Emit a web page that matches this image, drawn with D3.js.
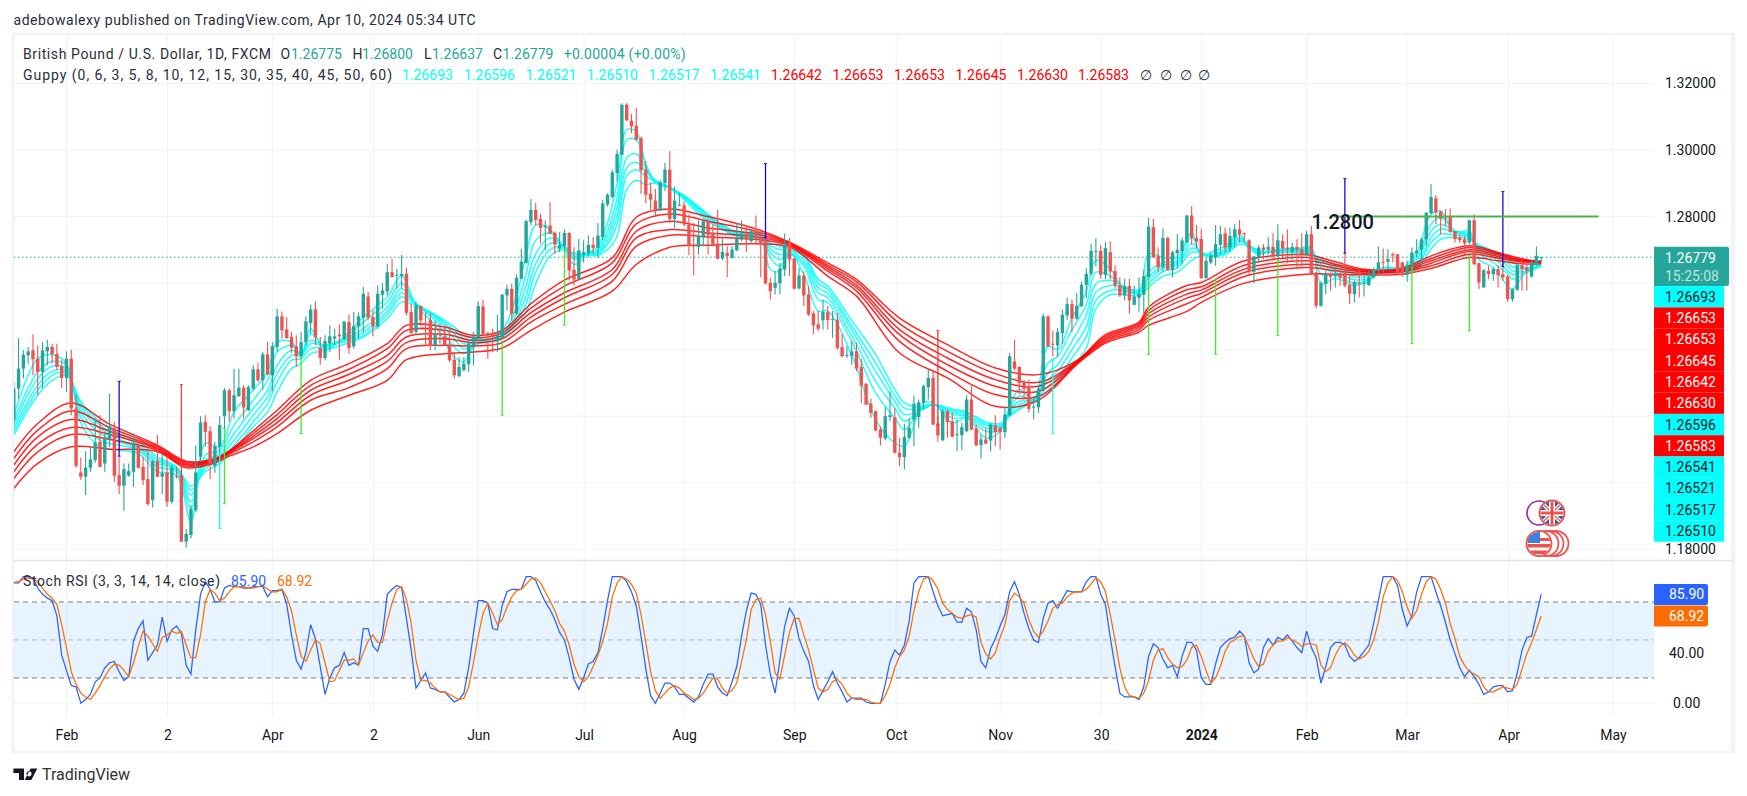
<!DOCTYPE html>
<html>
<head>
<meta charset="utf-8">
<script src="https://cdn.jsdelivr.net/npm/d3@7/dist/d3.min.js"></script>
<style>
html,body{margin:0;padding:0;background:#fff;overflow:hidden}
svg{display:block}
text{font-family:Roboto,"Liberation Sans",sans-serif}
</style>
</head>
<body>
<svg id="chart" width="1747" height="796"></svg>
<script>
// GBP/USD daily candles
const opens=[
1.2188,1.2283,1.2343,1.2383,1.2398,1.2373,1.2333,1.2395,1.2408,1.2388,
1.2350,1.2315,1.2373,1.2223,1.2031,1.2018,1.2045,1.2068,1.2123,1.2058,
1.2133,1.2163,1.2023,1.1991,1.2021,1.2033,1.2113,1.2048,1.2011,1.1948,
1.2065,1.2018,1.2031,1.1943,1.2021,1.2020,1.1823,1.1843,1.1918,1.2078,
1.2183,1.2155,1.2051,1.2108,1.2200,1.2278,1.2215,1.2260,1.2286,1.2218,
1.2283,1.2341,1.2308,1.2386,1.2323,1.2408,1.2500,1.2461,1.2438,1.2410,
1.2380,1.2423,1.2480,1.2521,1.2405,1.2375,1.2418,1.2433,1.2445,1.2433,
1.2483,1.2410,1.2470,1.2496,1.2560,1.2498,1.2470,1.2565,1.2575,1.2633,
1.2623,1.2621,1.2628,1.2513,1.2453,1.2531,1.2478,1.2490,1.2411,1.2446,
1.2440,1.2415,1.2370,1.2321,1.2338,1.2356,1.2413,1.2438,1.2530,1.2450,
1.2448,1.2425,1.2438,1.2563,1.2583,1.2508,1.2613,1.2661,1.2783,1.2820,
1.2793,1.2768,1.2773,1.2751,1.2703,1.2711,1.2751,1.2640,1.2613,1.2686,
1.2690,1.2715,1.2706,1.2738,1.2836,1.2859,1.2931,1.2986,1.3136,1.3088,
1.3073,1.3036,1.2941,1.2869,1.2848,1.2819,1.2901,1.2941,1.2793,1.2835,
1.2834,1.2776,1.2713,1.2709,1.2738,1.2786,1.2749,1.2719,1.2674,1.2691,
1.2676,1.2698,1.2731,1.2749,1.2726,1.2756,1.2736,1.2736,1.2601,1.2586,
1.2599,1.2641,1.2721,1.2674,1.2584,1.2623,1.2566,1.2509,1.2476,1.2488,
1.2513,1.2490,1.2490,1.2408,1.2382,1.2382,1.2395,1.2348,1.2297,1.2238,
1.2215,1.2160,1.2133,1.2197,1.2197,1.2090,1.2077,1.2135,1.2190,1.2197,
1.2240,1.2287,1.2315,1.2178,1.2128,1.2215,1.2185,1.2144,1.2143,1.2155,
1.2250,1.2163,1.2113,1.2130,1.2127,1.2172,1.2165,1.2152,1.2203,1.2365,
1.2348,1.2303,1.2288,1.2227,1.2227,1.2277,1.2500,1.2418,1.2413,1.2450,
1.2503,1.2537,1.2493,1.2530,1.2595,1.2628,1.2695,1.2697,1.2625,1.2693,
1.2636,1.2593,1.2563,1.2591,1.2535,1.2556,1.2565,1.2618,1.2768,1.2681,
1.2648,1.2736,1.2640,1.2690,1.2696,1.2723,1.2803,1.2736,1.2733,1.2615,
1.2662,1.2677,1.2715,1.2750,1.2707,1.2737,1.2762,1.2750,1.2729,1.2634,
1.2677,1.2707,1.2700,1.2709,1.2682,1.2727,1.2707,1.2694,1.2709,1.2702,
1.2687,1.2747,1.2632,1.2532,1.2597,1.2627,1.2620,1.2625,1.2632,1.2594,
1.2567,1.2602,1.2598,1.2594,1.2617,1.2637,1.2664,1.2664,1.2687,1.2687,
1.2662,1.2625,1.2650,1.2689,1.2700,1.2732,1.2810,1.2855,1.2815,1.2797,
1.2800,1.2756,1.2737,1.2732,1.2722,1.2789,1.2660,1.2587,1.2637,1.2627,
1.2642,1.2627,1.2620,1.2552,1.2580,1.2654,1.2647,1.2620,1.2657,1.26775];
const closes=[
1.2283,1.2343,1.2385,1.2395,1.2371,1.2333,1.2398,1.2408,1.2386,1.2348,
1.2315,1.2373,1.2223,1.2051,1.2018,1.2046,1.2070,1.2121,1.2048,1.2136,
1.2170,1.2021,1.1991,1.2041,1.2035,1.2113,1.2045,1.2008,1.1936,1.2065,
1.2018,1.2028,1.1943,1.2046,1.2018,1.1823,1.1846,1.1921,1.2031,1.2181,
1.2153,1.2058,1.2110,1.2173,1.2278,1.2215,1.2263,1.2286,1.2226,1.2288,
1.2341,1.2308,1.2386,1.2326,1.2410,1.2500,1.2458,1.2435,1.2406,1.2380,
1.2423,1.2485,1.2521,1.2438,1.2375,1.2426,1.2440,1.2440,1.2440,1.2485,
1.2405,1.2471,1.2500,1.2568,1.2496,1.2470,1.2568,1.2578,1.2633,1.2618,
1.2625,1.2628,1.2511,1.2450,1.2533,1.2488,1.2474,1.2411,1.2445,1.2443,
1.2413,1.2368,1.2323,1.2348,1.2358,1.2418,1.2440,1.2531,1.2446,1.2443,
1.2438,1.2443,1.2565,1.2583,1.2508,1.2616,1.2665,1.2786,1.2820,1.2790,
1.2766,1.2773,1.2748,1.2716,1.2715,1.2751,1.2638,1.2611,1.2698,1.2693,
1.2715,1.2706,1.2743,1.2839,1.2866,1.2933,1.2988,1.3136,1.3089,1.3071,
1.3031,1.2939,1.2866,1.2851,1.2819,1.2903,1.2941,1.2793,1.2848,1.2836,
1.2776,1.2711,1.2710,1.2741,1.2786,1.2744,1.2716,1.2674,1.2694,1.2681,
1.2701,1.2733,1.2748,1.2731,1.2756,1.2734,1.2721,1.2599,1.2576,1.2601,
1.2644,1.2721,1.2671,1.2583,1.2623,1.2563,1.2506,1.2473,1.2463,1.2513,
1.2489,1.2492,1.2405,1.2380,1.2384,1.2395,1.2343,1.2292,1.2235,1.2210,
1.2157,1.2135,1.2200,1.2203,1.2090,1.2077,1.2137,1.2165,1.2238,1.2242,
1.2290,1.2315,1.2175,1.2142,1.2215,1.2182,1.2138,1.2146,1.2167,1.2250,
1.2160,1.2112,1.2130,1.2118,1.2175,1.2152,1.2152,1.2205,1.2380,1.2343,
1.2300,1.2282,1.2222,1.2229,1.2282,1.2500,1.2410,1.2415,1.2453,1.2505,
1.2537,1.2493,1.2532,1.2595,1.2628,1.2697,1.2697,1.2625,1.2705,1.2635,
1.2593,1.2563,1.2591,1.2548,1.2560,1.2568,1.2621,1.2770,1.2678,1.2648,
1.2736,1.2640,1.2693,1.2700,1.2728,1.2803,1.2735,1.2725,1.2615,1.2667,
1.2682,1.2717,1.2747,1.2707,1.2742,1.2762,1.2747,1.2747,1.2637,1.2680,
1.2707,1.2700,1.2709,1.2682,1.2729,1.2704,1.2702,1.2709,1.2700,1.2687,
1.2747,1.2627,1.2532,1.2600,1.2627,1.2619,1.2627,1.2616,1.2592,1.2568,
1.2604,1.2600,1.2600,1.2617,1.2642,1.2662,1.2662,1.2672,1.2683,1.2627,
1.2625,1.2652,1.2692,1.2697,1.2732,1.2812,1.2859,1.2812,1.2794,1.2794,
1.2754,1.2732,1.2729,1.2720,1.2789,1.2657,1.2602,1.2639,1.2627,1.2642,
1.2624,1.2617,1.2552,1.2582,1.2654,1.2642,1.2637,1.2664,1.2682,1.26779];
const highs=[
1.2303,1.2435,1.2398,1.2408,1.2446,1.2413,1.2423,1.2430,1.2418,1.2418,
1.2368,1.2395,1.2400,1.2265,1.2076,1.2095,1.2108,1.2193,1.2203,1.2153,
1.2268,1.2183,1.2078,1.2058,1.2058,1.2148,1.2130,1.2078,1.2098,1.2070,
1.2143,1.2090,1.2078,1.2053,1.2048,1.2020,1.1861,1.1933,1.2113,1.2200,
1.2203,1.2170,1.2123,1.2200,1.2285,1.2283,1.2343,1.2343,1.2293,1.2293,
1.2353,1.2361,1.2393,1.2423,1.2423,1.2523,1.2515,1.2498,1.2453,1.2443,
1.2453,1.2500,1.2536,1.2545,1.2438,1.2443,1.2473,1.2463,1.2476,1.2485,
1.2506,1.2513,1.2511,1.2588,1.2573,1.2518,1.2593,1.2600,1.2658,1.2673,
1.2643,1.2685,1.2646,1.2538,1.2543,1.2533,1.2513,1.2508,1.2488,1.2478,
1.2473,1.2468,1.2393,1.2378,1.2378,1.2433,1.2453,1.2545,1.2550,1.2453,
1.2463,1.2505,1.2568,1.2595,1.2598,1.2626,1.2703,1.2791,1.2853,1.2841,
1.2808,1.2788,1.2843,1.2755,1.2753,1.2761,1.2753,1.2708,1.2733,1.2728,
1.2743,1.2738,1.2781,1.2850,1.2870,1.2940,1.3001,1.3141,1.3141,1.3109,
1.3126,1.3041,1.2966,1.2903,1.2883,1.2909,1.2961,1.2996,1.2891,1.2871,
1.2846,1.2806,1.2781,1.2791,1.2788,1.2791,1.2776,1.2821,1.2736,1.2711,
1.2711,1.2781,1.2788,1.2771,1.2761,1.2803,1.2761,1.2736,1.2616,1.2636,
1.2661,1.2749,1.2736,1.2676,1.2646,1.2636,1.2591,1.2516,1.2516,1.2551,
1.2531,1.2516,1.2510,1.2447,1.2410,1.2425,1.2422,1.2373,1.2300,1.2253,
1.2217,1.2170,1.2227,1.2275,1.2223,1.2135,1.2177,1.2193,1.2262,1.2250,
1.2295,1.2340,1.2335,1.2200,1.2222,1.2220,1.2213,1.2190,1.2180,1.2263,
1.2290,1.2175,1.2145,1.2165,1.2180,1.2203,1.2168,1.2230,1.2390,1.2430,
1.2350,1.2308,1.2310,1.2260,1.2290,1.2508,1.2503,1.2457,1.2465,1.2520,
1.2557,1.2550,1.2570,1.2605,1.2645,1.2718,1.2735,1.2715,1.2723,1.2726,
1.2653,1.2618,1.2613,1.2613,1.2593,1.2618,1.2638,1.2796,1.2793,1.2708,
1.2765,1.2738,1.2698,1.2748,1.2738,1.2805,1.2831,1.2775,1.2763,1.2678,
1.2692,1.2775,1.2772,1.2767,1.2767,1.2777,1.2789,1.2752,1.2732,1.2682,
1.2714,1.2717,1.2737,1.2750,1.2777,1.2747,1.2762,1.2722,1.2732,1.2750,
1.2757,1.2772,1.2634,1.2607,1.2637,1.2632,1.2642,1.2657,1.2690,1.2627,
1.2607,1.2642,1.2620,1.2637,1.2647,1.2710,1.2704,1.2702,1.2692,1.2687,
1.2664,1.2667,1.2707,1.2732,1.2737,1.2812,1.2897,1.2864,1.2817,1.2822,
1.2824,1.2757,1.2747,1.2742,1.2789,1.2807,1.2662,1.2642,1.2652,1.2647,
1.2654,1.2682,1.2624,1.2584,1.2657,1.2672,1.2657,1.2667,1.2710,1.2680];
const lows=[
1.2170,1.2253,1.2313,1.2358,1.2323,1.2263,1.2285,1.2353,1.2358,1.2338,
1.2285,1.2273,1.2203,1.2045,1.2008,1.1963,1.2033,1.2060,1.2048,1.2033,
1.2108,1.2003,1.1966,1.1916,1.2018,1.1988,1.2043,1.1993,1.1931,1.1926,
1.2018,1.1966,1.1928,1.1938,1.2013,1.1823,1.1805,1.1833,1.1911,1.2063,
1.2108,1.2011,1.2030,1.2053,1.2163,1.2183,1.2193,1.2258,1.2193,1.2216,
1.2278,1.2303,1.2278,1.2323,1.2276,1.2393,1.2433,1.2433,1.2390,1.2348,
1.2373,1.2413,1.2448,1.2413,1.2355,1.2368,1.2393,1.2413,1.2370,1.2428,
1.2388,1.2403,1.2433,1.2451,1.2488,1.2440,1.2463,1.2523,1.2563,1.2618,
1.2583,1.2583,1.2503,1.2448,1.2448,1.2471,1.2413,1.2398,1.2398,1.2418,
1.2411,1.2363,1.2313,1.2316,1.2335,1.2333,1.2353,1.2433,1.2445,1.2373,
1.2393,1.2393,1.2433,1.2518,1.2488,1.2505,1.2613,1.2658,1.2773,1.2773,
1.2718,1.2698,1.2748,1.2688,1.2693,1.2703,1.2608,1.2593,1.2611,1.2663,
1.2678,1.2688,1.2676,1.2730,1.2830,1.2855,1.2906,1.2986,1.3088,1.3051,
1.3029,1.2869,1.2841,1.2819,1.2801,1.2816,1.2876,1.2781,1.2766,1.2831,
1.2771,1.2684,1.2624,1.2686,1.2711,1.2686,1.2711,1.2671,1.2669,1.2618,
1.2674,1.2696,1.2726,1.2693,1.2721,1.2716,1.2618,1.2596,1.2551,1.2566,
1.2566,1.2621,1.2621,1.2581,1.2581,1.2531,1.2501,1.2446,1.2456,1.2461,
1.2461,1.2436,1.2400,1.2378,1.2375,1.2355,1.2335,1.2238,1.2232,1.2195,
1.2155,1.2112,1.2128,1.2185,1.2088,1.2050,1.2040,1.2133,1.2110,1.2165,
1.2220,1.2250,1.2173,1.2123,1.2125,1.2135,1.2138,1.2095,1.2098,1.2152,
1.2158,1.2110,1.2073,1.2115,1.2095,1.2110,1.2100,1.2135,1.2200,1.2338,
1.2265,1.2250,1.2212,1.2190,1.2210,1.2275,1.2408,1.2380,1.2378,1.2418,
1.2490,1.2452,1.2490,1.2528,1.2555,1.2623,1.2650,1.2613,1.2613,1.2611,
1.2583,1.2558,1.2548,1.2508,1.2533,1.2515,1.2508,1.2615,1.2675,1.2633,
1.2635,1.2638,1.2617,1.2643,1.2658,1.2720,1.2716,1.2705,1.2613,1.2613,
1.2657,1.2652,1.2687,1.2692,1.2692,1.2707,1.2722,1.2725,1.2622,1.2600,
1.2662,1.2672,1.2687,1.2672,1.2674,1.2677,1.2660,1.2667,1.2642,1.2645,
1.2677,1.2624,1.2524,1.2530,1.2567,1.2577,1.2587,1.2592,1.2587,1.2537,
1.2542,1.2557,1.2560,1.2592,1.2614,1.2627,1.2632,1.2642,1.2662,1.2624,
1.2620,1.2604,1.2627,1.2677,1.2652,1.2712,1.2807,1.2777,1.2747,1.2772,
1.2750,1.2722,1.2720,1.2687,1.2717,1.2654,1.2582,1.2587,1.2612,1.2607,
1.2587,1.2607,1.2544,1.2544,1.2577,1.2577,1.2577,1.2617,1.2652,1.26637];

// Stochastic RSI, one value per candle
const stochK=[
95,95,100,100,99,91,86,83,81,69,38,26,14,13,0,3,7,17,20,28,
32,33,25,18,21,49,59,65,34,40,46,68,49,58,61,55,30,23,58,86,
96,90,80,80,91,93,92,92,91,91,92,92,92,84,89,89,90,78,54,34,
27,40,62,51,29,7,20,28,30,40,30,32,30,59,59,45,41,54,86,90,
93,91,67,42,12,18,24,12,11,9,9,5,1,3,8,28,55,81,81,79,59,58,
77,88,90,90,90,100,100,97,88,80,74,66,56,50,36,19,11,20,31,33,
40,59,81,100,100,100,96,88,77,53,27,6,0,8,16,16,13,7,7,4,
1,5,15,23,23,13,8,6,17,29,53,73,87,86,78,46,23,8,34,61,
75,69,51,41,33,14,3,10,17,25,16,9,1,4,4,4,1,0,0,0,
15,33,42,38,46,65,95,100,100,100,88,77,69,70,71,64,64,75,72,58,
33,28,43,51,61,70,88,96,86,71,59,50,48,67,79,81,75,82,89,88,
88,88,96,100,100,86,78,52,29,8,5,5,5,3,13,37,47,44,35,28,
30,21,37,48,48,42,20,15,15,31,44,48,51,52,57,53,32,24,27,44,
51,46,52,50,54,49,44,40,57,44,36,16,29,44,48,48,46,37,33,36,
41,46,63,81,100,100,100,93,74,61,69,88,100,100,100,88,77,64,50,39,
28,21,26,21,15,7,9,13,14,14,9,10,24,42,52,53,70,85.9];
const stochD=[
95.5,96,98,99,98,96,91,86,83,78,62,44,25,15,8,5,3,8,14,21,
27,31,30,26,21,32,45,57,53,47,41,52,54,57,55,57,46,36,36,54,
80,90,87,81,83,88,92,92,92,91,91,92,93,90,88,88,90,84,73,54,
37,33,42,50,47,32,17,18,26,34,34,35,30,40,49,54,48,48,65,79,
90,92,82,63,34,18,18,16,12,9,9,7,5,3,4,13,32,53,71,79,71,62,
66,76,84,89,90,94,98,99,95,88,81,73,63,57,46,31,21,17,21,29,
38,49,63,84,95,100,98,94,87,70,48,25,10,4,8,12,14,12,8,6,
3,4,8,14,20,19,12,8,10,16,33,50,74,82,83,70,49,24,19,38,
56,67,67,54,42,27,12,9,11,17,19,15,8,4,3,3,3,1,0,0,
6,15,28,37,42,53,73,88,98,100,97,90,79,74,71,68,67,69,70,68,
48,39,35,40,52,62,81,87,84,79,66,57,52,57,65,75,78,79,84,87,
88,88,90,94,99,96,88,70,50,28,13,6,5,4,8,18,34,42,43,36,
31,28,29,34,44,46,37,26,16,20,29,41,48,50,53,53,44,35,29,31,
41,46,49,49,52,50,48,45,47,47,46,30,25,28,38,45,48,44,38,35,
37,41,50,64,84,95,100,97,88,76,67,73,86,96,100,98,90,79,63,51,
37,30,25,23,21,13,9,9,11,13,12,11,15,27,39,48,58,68.92];

// Guppy multiple moving averages, read at selected candles
const cyanBars=[0,5,8,11,14,18,22,26,30,34,37,40,43,46,50,53,55,58,60,62,65,70,73,78,81,84,88,92,94,97,100,102,105,107,109,112,115,117,120,122,124,126,128,130,132,134,137,140,144,148,151,156,158,160,162,165,168,170,175,180,184,186,190,192,196,199,203,206,208,210,213,216,218,221,224,226,229,232,235,237,240,243,246,248,250,253,256,258,260,264,268,271,273,276,280,283,286,290,293,296,298,301,304,306,309,312,313,316,319];
const cyanRows=[
[1.2203,1.2188,1.2176,1.2163,1.2153,1.2143],[1.2373,1.2333,1.2313,1.2293,1.2278,1.2263],[1.2385,1.2365,1.2350,1.2335,1.2323,1.2308],
[1.2358,1.2353,1.2343,1.2336,1.2330,1.2323],[1.2178,1.2198,1.2213,1.2226,1.2236,1.2245],[1.2108,1.2128,1.2148,1.2163,1.2173,1.2183],
[1.2098,1.2113,1.2123,1.2131,1.2140,1.2148],[1.2088,1.2098,1.2103,1.2108,1.2115,1.2123],[1.2033,1.2048,1.2058,1.2065,1.2070,1.2078],
[1.2023,1.2033,1.2038,1.2041,1.2045,1.2048],[1.1883,1.1923,1.1943,1.1963,1.1978,1.1990],[1.2118,1.2083,1.2068,1.2053,1.2043,1.2033],
[1.2108,1.2098,1.2086,1.2078,1.2068,1.2058],[1.2213,1.2173,1.2148,1.2128,1.2113,1.2101],[1.2278,1.2248,1.2223,1.2203,1.2183,1.2168],
[1.2333,1.2308,1.2278,1.2258,1.2238,1.2213],[1.2423,1.2393,1.2353,1.2328,1.2303,1.2273],[1.2423,1.2413,1.2398,1.2383,1.2368,1.2343],
[1.2383,1.2388,1.2388,1.2383,1.2373,1.2358],[1.2463,1.2448,1.2428,1.2418,1.2403,1.2388],[1.2403,1.2410,1.2413,1.2413,1.2408,1.2398],
[1.2453,1.2446,1.2438,1.2433,1.2428,1.2421],[1.2498,1.2483,1.2463,1.2453,1.2443,1.2438],[1.2558,1.2543,1.2528,1.2515,1.2505,1.2493],
[1.2623,1.2600,1.2583,1.2571,1.2558,1.2543],[1.2533,1.2538,1.2538,1.2538,1.2536,1.2533],[1.2473,1.2488,1.2496,1.2500,1.2503,1.2505],
[1.2378,1.2408,1.2433,1.2448,1.2458,1.2468],[1.2363,1.2388,1.2403,1.2418,1.2433,1.2443],[1.2438,1.2418,1.2418,1.2423,1.2428,1.2433],
[1.2448,1.2433,1.2428,1.2428,1.2431,1.2433],[1.2458,1.2443,1.2438,1.2438,1.2438,1.2441],[1.2563,1.2528,1.2508,1.2493,1.2483,1.2473],
[1.2683,1.2628,1.2593,1.2563,1.2538,1.2513],[1.2775,1.2728,1.2688,1.2658,1.2633,1.2598],[1.2761,1.2751,1.2736,1.2719,1.2701,1.2681],
[1.2701,1.2706,1.2709,1.2711,1.2709,1.2701],[1.2656,1.2671,1.2676,1.2681,1.2686,1.2691],[1.2691,1.2691,1.2691,1.2689,1.2686,1.2684],
[1.2711,1.2701,1.2696,1.2691,1.2689,1.2684],[1.2781,1.2756,1.2741,1.2726,1.2716,1.2701],[1.2901,1.2856,1.2826,1.2801,1.2776,1.2741],
[1.3061,1.3031,1.2976,1.2946,1.2921,1.2881],[1.3056,1.3031,1.2989,1.2963,1.2941,1.2909],[1.2956,1.2956,1.2946,1.2936,1.2921,1.2896],
[1.2901,1.2906,1.2909,1.2909,1.2906,1.2901],[1.2886,1.2888,1.2888,1.2888,1.2888,1.2886],[1.2851,1.2856,1.2859,1.2861,1.2863,1.2863],
[1.2796,1.2803,1.2809,1.2813,1.2816,1.2819],[1.2761,1.2761,1.2766,1.2769,1.2773,1.2776],[1.2741,1.2744,1.2746,1.2749,1.2751,1.2754],
[1.2729,1.2738,1.2741,1.2744,1.2746,1.2749],[1.2641,1.2676,1.2691,1.2703,1.2713,1.2721],[1.2636,1.2651,1.2671,1.2686,1.2701,1.2711],
[1.2691,1.2686,1.2686,1.2691,1.2698,1.2703],[1.2626,1.2651,1.2661,1.2671,1.2681,1.2686],[1.2516,1.2551,1.2571,1.2586,1.2600,1.2611],
[1.2516,1.2541,1.2556,1.2569,1.2581,1.2591],[1.2385,1.2425,1.2442,1.2460,1.2472,1.2488],[1.2190,1.2270,1.2305,1.2335,1.2360,1.2385],
[1.2120,1.2195,1.2225,1.2245,1.2262,1.2280],[1.2110,1.2160,1.2185,1.2205,1.2225,1.2240],[1.2240,1.2230,1.2225,1.2222,1.2222,1.2225],
[1.2240,1.2235,1.2235,1.2235,1.2235,1.2235],[1.2180,1.2195,1.2205,1.2212,1.2217,1.2222],[1.2195,1.2195,1.2200,1.2203,1.2210,1.2213],
[1.2135,1.2155,1.2165,1.2173,1.2178,1.2183],[1.2155,1.2160,1.2165,1.2170,1.2173,1.2178],[1.2230,1.2220,1.2215,1.2208,1.2203,1.2200],
[1.2280,1.2260,1.2245,1.2235,1.2225,1.2220],[1.2250,1.2250,1.2250,1.2250,1.2248,1.2245],[1.2410,1.2360,1.2330,1.2310,1.2290,1.2275],
[1.2400,1.2380,1.2355,1.2335,1.2315,1.2300],[1.2495,1.2460,1.2425,1.2400,1.2375,1.2350],[1.2575,1.2535,1.2505,1.2470,1.2440,1.2405],
[1.2668,1.2633,1.2598,1.2573,1.2548,1.2523],[1.2643,1.2621,1.2608,1.2593,1.2578,1.2565],[1.2578,1.2588,1.2588,1.2586,1.2578,1.2565],
[1.2573,1.2580,1.2578,1.2573,1.2570,1.2563],[1.2688,1.2633,1.2618,1.2608,1.2598,1.2588],[1.2678,1.2661,1.2653,1.2645,1.2635,1.2621],
[1.2678,1.2668,1.2661,1.2655,1.2646,1.2633],[1.2753,1.2738,1.2718,1.2705,1.2693,1.2668],[1.2683,1.2688,1.2693,1.2693,1.2691,1.2683],
[1.2692,1.2684,1.2682,1.2682,1.2682,1.2680],[1.2712,1.2704,1.2698,1.2694,1.2690,1.2686],[1.2747,1.2739,1.2734,1.2729,1.2724,1.2717],
[1.2702,1.2710,1.2714,1.2714,1.2712,1.2710],[1.2687,1.2689,1.2692,1.2694,1.2697,1.2700],[1.2702,1.2700,1.2697,1.2695,1.2694,1.2692],
[1.2704,1.2702,1.2700,1.2697,1.2695,1.2692],[1.2707,1.2702,1.2697,1.2694,1.2690,1.2687],[1.2597,1.2627,1.2647,1.2657,1.2667,1.2674],
[1.2614,1.2624,1.2632,1.2640,1.2647,1.2654],[1.2594,1.2600,1.2610,1.2620,1.2629,1.2637],[1.2607,1.2610,1.2614,1.2620,1.2626,1.2632],
[1.2647,1.2642,1.2639,1.2635,1.2632,1.2630],[1.2647,1.2644,1.2642,1.2640,1.2637,1.2634],[1.2692,1.2677,1.2667,1.2657,1.2650,1.2642],
[1.2807,1.2777,1.2757,1.2737,1.2722,1.2702],[1.2817,1.2797,1.2777,1.2762,1.2747,1.2732],[1.2752,1.2757,1.2757,1.2752,1.2744,1.2737],
[1.2757,1.2747,1.2742,1.2740,1.2737,1.2732],[1.2672,1.2692,1.2702,1.2707,1.2712,1.2715],[1.2647,1.2662,1.2677,1.2687,1.2692,1.2697],
[1.2592,1.2627,1.2637,1.2652,1.2662,1.2672],[1.2582,1.2612,1.2627,1.2637,1.2650,1.2662],[1.2637,1.2632,1.2634,1.2637,1.2642,1.2647],
[1.26693,1.26596,1.26521,1.26510,1.26517,1.26541]];
const redBars=[0,5,12,20,30,36,42,45,50,55,62,70,78,82,90,96,102,108,115,125,130,137,145,155,162,170,176,185,195,205,214,222,228,235,237,245,248,257,270,276,282,290,296,304,310,315,319];
const redRows=[
[1.2093,1.2073,1.2053,1.2033,1.2013,1.1983],[1.2178,1.2158,1.2138,1.2116,1.2093,1.2058],[1.2240,1.2216,1.2190,1.2166,1.2145,1.2108],
[1.2176,1.2166,1.2155,1.2145,1.2130,1.2101],[1.2113,1.2109,1.2105,1.2101,1.2097,1.2093],[1.2065,1.2062,1.2058,1.2054,1.2050,1.2045],
[1.2073,1.2071,1.2069,1.2067,1.2064,1.2060],[1.2096,1.2094,1.2092,1.2090,1.2086,1.2080],[1.2156,1.2148,1.2140,1.2133,1.2123,1.2108],
[1.2218,1.2205,1.2193,1.2181,1.2168,1.2148],[1.2308,1.2293,1.2278,1.2263,1.2248,1.2218],[1.2358,1.2341,1.2326,1.2308,1.2286,1.2263],
[1.2418,1.2403,1.2383,1.2365,1.2343,1.2308],[1.2473,1.2458,1.2438,1.2421,1.2403,1.2370],[1.2468,1.2458,1.2446,1.2433,1.2413,1.2388],
[1.2443,1.2436,1.2428,1.2421,1.2411,1.2393],[1.2458,1.2451,1.2443,1.2433,1.2421,1.2405],[1.2538,1.2525,1.2511,1.2498,1.2483,1.2458],
[1.2609,1.2591,1.2571,1.2556,1.2536,1.2513],[1.2676,1.2661,1.2641,1.2626,1.2606,1.2576],[1.2798,1.2778,1.2756,1.2736,1.2711,1.2656],
[1.2823,1.2808,1.2786,1.2761,1.2744,1.2708],[1.2800,1.2786,1.2766,1.2751,1.2739,1.2714],[1.2763,1.2756,1.2748,1.2739,1.2731,1.2718],
[1.2723,1.2721,1.2718,1.2716,1.2713,1.2709],[1.2661,1.2654,1.2649,1.2643,1.2636,1.2621],[1.2611,1.2604,1.2594,1.2586,1.2576,1.2561],
[1.2495,1.2478,1.2460,1.2445,1.2425,1.2390],[1.2415,1.2395,1.2375,1.2355,1.2335,1.2315],[1.2345,1.2328,1.2310,1.2290,1.2265,1.2230],
[1.2325,1.2302,1.2290,1.2275,1.2260,1.2248],[1.2367,1.2365,1.2363,1.2361,1.2358,1.2355],[1.2445,1.2440,1.2435,1.2430,1.2425,1.2420],
[1.2483,1.2478,1.2473,1.2467,1.2460,1.2453],[1.2528,1.2518,1.2508,1.2498,1.2488,1.2473],[1.2593,1.2580,1.2567,1.2555,1.2538,1.2515],
[1.2602,1.2589,1.2579,1.2569,1.2557,1.2542],[1.2667,1.2654,1.2642,1.2632,1.2620,1.2600],[1.2685,1.2677,1.2667,1.2657,1.2647,1.2627],
[1.2664,1.2657,1.2652,1.2645,1.2637,1.2627],[1.2642,1.2639,1.2636,1.2634,1.2630,1.2625],[1.2645,1.2642,1.2639,1.2636,1.2634,1.2627],
[1.2682,1.2674,1.2667,1.2660,1.2652,1.2644],[1.2712,1.2707,1.2700,1.2695,1.2687,1.2677],[1.2692,1.2689,1.2685,1.2680,1.2675,1.2667],
[1.2673,1.2670,1.2668,1.2666,1.2664,1.2658],[1.26642,1.26653,1.26653,1.26645,1.26630,1.26583]];

// Hand-drawn range bars and the 1.2800 level
const noteBars=[22,35,43,44,60,102,115,157,193,217,237,251,264,278,292,304,311];
const noteTops=[1.2305,1.2295,1.2088,1.2163,1.2373,1.2426,1.2701,1.2959,1.2457,1.2372,1.2612,1.2612,1.2669,1.2914,1.2647,1.2682,1.2875];
const noteBottoms=[1.2080,1.2020,1.1863,1.1938,1.2148,1.2203,1.2474,1.2736,1.2175,1.2147,1.2386,1.2386,1.2442,1.2690,1.2419,1.2457,1.2650];
const noteColors=["#2b00d8","#f23b3b","#1dfde0","#39f02a","#39f02a","#39f02a","#39f02a","#2b00d8","#f23b3b","#1dfde0","#39f02a","#39f02a","#39f02a","#2b00d8","#39f02a","#39f02a","#2b00d8"];
const levelPrice=1.28, levelFrom=275.5, levelTo=331, levelText="1.2800";

// Axes
const dateBars=[11,32.1,54,75.1,97,119.1,140,163,184.3,206,227.1,248,270,291,312.2,334];
const dateLabels=["Feb","2","Apr","2","Jun","Jul","Aug","Sep","Oct","Nov","30","2024","Feb","Mar","Apr","May"];
const priceTicks=[1.32,1.30,1.28,1.26,1.24,1.22,1.20,1.18];
const priceLabelTicks=[1.32,1.30,1.28,1.18];
const stochGrid=[0,40];
const stochLevels=[80,50,20];

// Last-value tags on the price axis
const lastPrice=1.26779, countdown="15:25:08";
const tagValues=["1.26693","1.26653","1.26653","1.26645","1.26642","1.26630","1.26596","1.26583","1.26541","1.26521","1.26517","1.26510"];
const tagFamilies=["c","r","r","r","r","r","c","r","c","c","c","c"];

// Legend texts
const headline="adebowalexy published on TradingView.com, Apr 10, 2024 05:34 UTC";
const symbolLine="British Pound / U.S. Dollar, 1D, FXCM";
const ohlcLetters=["O","H","L","C"], ohlcValues=["1.26775","1.26800","1.26637","1.26779"];
const changeText="+0.00004 (+0.00%)";
const guppyTitle="Guppy (0, 6, 3, 5, 8, 10, 12, 15, 30, 35, 40, 45, 50, 60)";
const guppyValues=["1.26693","1.26596","1.26521","1.26510","1.26517","1.26541","1.26642","1.26653","1.26653","1.26645","1.26630","1.26583","∅","∅","∅","∅"];
const stochTitle="Stoch RSI (3, 3, 14, 14, close)";

const UP="#26a69a",DOWN="#ef5350",INK="#131722",GRID="#f0f3fa",CYAN="#00ffff",RED="#ff0000";
const plot={left:14,right:1654,top:35,mainBottom:560,subBottom:717};

const x=d3.scaleLinear().domain([0,334]).range([13.8,1613]);
const y=d3.scaleLinear().domain([1.18,1.32]).range([549.3,83.5]);
const ys=d3.scaleLinear().domain([0,100]).range([703.3,576.6]);

const svg=d3.select("#chart");
svg.append("defs").append("clipPath").attr("id","plot-clip").append("rect")
  .attr("x",plot.left).attr("y",plot.top).attr("width",plot.right-plot.left).attr("height",plot.mainBottom-plot.top);

// Frame and pane divider
svg.append("rect").attr("x",13).attr("y",34).attr("width",1721).attr("height",718)
  .attr("fill","none").attr("stroke",GRID).attr("stroke-width",2.5);
svg.append("rect").attr("x",1731).attr("y",34).attr("width",3).attr("height",718).attr("fill","#f0f3fa");

// Grid
const grid=svg.append("g").attr("stroke",GRID).attr("stroke-width",1);
grid.selectAll(".v").data(dateBars).join("line").attr("class","v")
  .attr("x1",d=>x(d)).attr("x2",d=>x(d)).attr("y1",plot.top).attr("y2",plot.subBottom);
grid.selectAll(".h").data(priceTicks).join("line").attr("class","h")
  .attr("x1",plot.left).attr("x2",plot.right).attr("y1",d=>y(d)).attr("y2",d=>y(d));
svg.append("line").attr("x1",14).attr("x2",1732).attr("y1",560.5).attr("y2",560.5)
  .attr("stroke","#e0e3eb").attr("stroke-width",1.5);

// Price line of the last close
svg.append("line").attr("x1",plot.left).attr("x2",plot.right).attr("y1",y(lastPrice)).attr("y2",y(lastPrice))
  .attr("stroke",UP).attr("stroke-width",1).attr("stroke-dasharray","1.5 2.5");

// Guppy ribbons
const main=svg.append("g").attr("clip-path","url(#plot-clip)");
function ribbon(bars,rows,color){
  d3.range(6).forEach(k=>{
    const line=d3.line().x(i=>x(bars[i])).y(i=>y(rows[i][k])).curve(d3.curveCatmullRom.alpha(0.5));
    main.append("path").attr("d",line(d3.range(bars.length))).attr("fill","none")
      .attr("stroke",color).attr("stroke-width",1.5).attr("stroke-opacity",0.85);
  });
}
ribbon(cyanBars,cyanRows,CYAN);
ribbon(redBars,redRows,RED);

// Candles
const candles=main.append("g");
const tone=i=>closes[i]>=opens[i]?UP:DOWN;
candles.selectAll(".wick").data(d3.range(opens.length)).join("line").attr("class","wick")
  .attr("x1",i=>x(i)).attr("x2",i=>x(i)).attr("y1",i=>y(highs[i])).attr("y2",i=>y(lows[i]))
  .attr("stroke",tone).attr("stroke-width",1.1);
candles.selectAll(".body").data(d3.range(opens.length)).join("rect").attr("class","body")
  .attr("x",i=>x(i)-1.7).attr("width",3.4)
  .attr("y",i=>y(Math.max(opens[i],closes[i])))
  .attr("height",i=>Math.max(1,Math.abs(y(opens[i])-y(closes[i]))))
  .attr("fill",tone);

// Range bars with small end caps
const notes=main.append("g");
noteBars.forEach((b,i)=>{
  const g=notes.append("g").attr("stroke",noteColors[i]);
  g.append("line").attr("x1",x(b)).attr("x2",x(b)).attr("y1",y(noteTops[i])).attr("y2",y(noteBottoms[i])).attr("stroke-width",1.3);
  [noteTops[i],noteBottoms[i]].forEach(p=>g.append("line").attr("x1",x(b)-1.5).attr("x2",x(b)+1.5).attr("y1",y(p)).attr("y2",y(p)).attr("stroke-width",1));
});

// 1.2800 level
svg.append("line").attr("x1",x(levelFrom)).attr("x2",x(levelTo)).attr("y1",y(levelPrice)).attr("y2",y(levelPrice))
  .attr("stroke","#4caf50").attr("stroke-width",2);
svg.append("text").attr("x",1311.5).attr("y",229).attr("font-size",20).attr("font-weight",500).attr("fill","#131722").text(levelText);

// Stoch RSI pane
const sub=svg.append("g");
sub.append("rect").attr("x",plot.left).attr("width",plot.right-plot.left)
  .attr("y",ys(80)).attr("height",ys(20)-ys(80)).attr("fill","#2196f3").attr("fill-opacity",0.11);
sub.selectAll(".sg").data(stochGrid).join("line").attr("class","sg")
  .attr("x1",plot.left).attr("x2",plot.right).attr("y1",d=>ys(d)).attr("y2",d=>ys(d))
  .attr("stroke",GRID).attr("stroke-width",1).attr("stroke-opacity",0.9);
sub.selectAll(".lv").data(stochLevels).join("line").attr("class","lv")
  .attr("x1",plot.left).attr("x2",plot.right).attr("y1",d=>ys(d)).attr("y2",d=>ys(d))
  .attr("stroke",d=>d===50?"#b2b5be":"#787b86").attr("stroke-width",1).attr("stroke-dasharray","5 4");
const stochLine=d3.line().x((d,i)=>x(i)).y(d=>ys(d));
sub.append("path").attr("d",stochLine(stochK)).attr("fill","none").attr("stroke","#2962ff").attr("stroke-width",1.25);
sub.append("path").attr("d",stochLine(stochD)).attr("fill","none").attr("stroke","#ff6d00").attr("stroke-width",1.25);

// Time axis
const timeAxis=d3.axisBottom(x).tickValues(dateBars).tickSize(0).tickPadding(0)
  .tickFormat((d,i)=>dateLabels[i]);
const tg=svg.append("g").attr("transform","translate(0,740)").call(timeAxis);
tg.select(".domain").remove();
tg.selectAll("text").attr("y",0).attr("dy",0).attr("font-size",14).attr("fill",INK)
  .style("font-family","Roboto,sans-serif").attr("font-weight",(d,i)=>dateLabels[i]==="2024"?700:400);

// Price axis
const priceAxis=d3.axisRight(y).tickValues(priceLabelTicks).tickSize(0).tickPadding(0)
  .tickFormat(d3.format(".5f"));
const pg=svg.append("g").attr("transform","translate(1665,0)").call(priceAxis);
pg.select(".domain").remove();
pg.selectAll("text").attr("x",0).attr("font-size",14).attr("fill",INK).style("font-family","Roboto,sans-serif");

// Stoch axis labels
const stochAxis=d3.axisRight(ys).tickValues(stochGrid).tickSize(0).tickPadding(0).tickFormat(d3.format(".2f"));
const sg=svg.append("g").attr("transform","translate(1669,0)").call(stochAxis);
sg.select(".domain").remove();
sg.selectAll("text").attr("x",d=>d===0?4:0).attr("font-size",14).attr("fill",INK).style("font-family","Roboto,sans-serif");

// Guppy tags, stacked so they do not overlap
tagValues.forEach((v,i)=>{
  const cy=296.7+i*21.3, isRed=tagFamilies[i]==="r";
  svg.append("rect").attr("x",1654).attr("y",cy-10.6).attr("width",70).attr("height",21.3).attr("fill",isRed?RED:CYAN);
  svg.append("text").attr("x",1665).attr("y",cy+5).attr("font-size",14).attr("fill",isRed?"#fff":INK).text(v);
});
// Last price tag with countdown
svg.append("path").attr("d","M1654 246.7H1727a2 2 0 0 1 2 2V284a2 2 0 0 1 -2 2H1654Z").attr("fill",UP);
svg.append("text").attr("x",1665).attr("y",262.5).attr("font-size",14).attr("fill","#fff").text(d3.format(".5f")(lastPrice));
svg.append("text").attr("x",1665).attr("y",281).attr("font-size",14).attr("fill","#fff").attr("fill-opacity",0.72).text(countdown);

// Stoch value tags
[[85.90,"#2962ff"],[68.92,"#ff6d00"]].forEach(([v,c])=>{
  const cy=ys(v);
  svg.append("path").attr("d",`M1654 ${cy-10.5}H1706a2 2 0 0 1 2 2V${cy+8.5}a2 2 0 0 1 -2 2H1654Z`).attr("fill",c);
  svg.append("text").attr("x",1669).attr("y",cy+5).attr("font-size",14).attr("fill","#fff").text(v.toFixed(2));
});

// Legend; long strings are fitted to their measured widths
function label(px,py,t,fill,size,width){
  const n=svg.append("text").attr("x",px).attr("y",py).attr("font-size",size||14).attr("fill",fill).text(t);
  if(width) n.attr("textLength",width).attr("lengthAdjust","spacing");
  return n;
}
label(13.5,25,headline,"#2a2e39",14,462);
label(23,59,symbolLine,"#2a2e39",14,248);
const ohlcX=[280.5,352.5,424,493], ohlcValX=[291,362,432,502.5];
ohlcLetters.forEach((l,i)=>{label(ohlcX[i],59,l,"#2a2e39");label(ohlcValX[i],59,ohlcValues[i],UP);});
label(563.7,59,changeText,UP,14,122);
label(23,80,guppyTitle,"#2a2e39",14,369);
const guppyX=[402,464,525.5,587,648.5,710,771,832.5,894,955.5,1017,1078,1140,1160,1180,1198];
guppyValues.forEach((v,i)=>{
  const c=i<6?CYAN:(i<12?RED:"#2a2e39");
  label(guppyX[i],80,v,c);
});
label(23,586,stochTitle,"#2a2e39",14,197);
label(231,586,"85.90","#2962ff");
label(277,586,"68.92","#ff6d00");

// Currency flags
const flags=svg.append("g");
flags.append("circle").attr("cx",1539).attr("cy",513).attr("r",12).attr("fill","#fff").attr("stroke","#9c27b0").attr("stroke-width",1.6);
const clipDefs=svg.select("defs");
clipDefs.append("clipPath").attr("id","uk-clip").append("circle").attr("cx",1552).attr("cy",513).attr("r",11.5);
clipDefs.append("clipPath").attr("id","us-clip").append("circle").attr("cx",1539).attr("cy",543.5).attr("r",11.5);
flags.append("circle").attr("cx",1552).attr("cy",513).attr("r",12.5).attr("fill","#fff").attr("stroke","#ef5350").attr("stroke-width",1.8);
const uk=flags.append("g").attr("clip-path","url(#uk-clip)");
uk.append("rect").attr("x",1540).attr("y",501).attr("width",24).attr("height",24).attr("fill","#2a5cad");
[[1540,501,1564,525],[1564,501,1540,525]].forEach(c=>uk.append("line").attr("x1",c[0]).attr("y1",c[1]).attr("x2",c[2]).attr("y2",c[3]).attr("stroke","#fff").attr("stroke-width",4));
[[1540,501,1564,525],[1564,501,1540,525]].forEach(c=>uk.append("line").attr("x1",c[0]).attr("y1",c[1]).attr("x2",c[2]).attr("y2",c[3]).attr("stroke","#ef5350").attr("stroke-width",1.3));
uk.append("rect").attr("x",1549).attr("y",501).attr("width",6).attr("height",24).attr("fill","#fff");
uk.append("rect").attr("x",1540).attr("y",510).attr("width",24).attr("height",6).attr("fill","#fff");
uk.append("rect").attr("x",1550.5).attr("y",501).attr("width",3).attr("height",24).attr("fill","#ef5350");
uk.append("rect").attr("x",1540).attr("y",511.5).attr("width",24).attr("height",3).attr("fill","#ef5350");
[1556,1551,1546].forEach(cx=>flags.append("circle").attr("cx",cx).attr("cy",543.5).attr("r",12.5).attr("fill","#fff").attr("stroke","#ef5350").attr("stroke-width",1.8));
flags.append("circle").attr("cx",1539).attr("cy",543.5).attr("r",12.5).attr("fill","#fff").attr("stroke","#ef5350").attr("stroke-width",1.8);
const us=flags.append("g").attr("clip-path","url(#us-clip)");
us.append("rect").attr("x",1527).attr("y",532).attr("width",24).attr("height",3).attr("fill","#fff");
us.append("rect").attr("x",1527).attr("y",538).attr("width",24).attr("height",3).attr("fill","#ef5350");
us.append("rect").attr("x",1527).attr("y",544).attr("width",24).attr("height",3.5).attr("fill","#ef5350");
us.append("rect").attr("x",1527).attr("y",550.5).attr("width",24).attr("height",3.5).attr("fill","#ef5350");
us.append("rect").attr("x",1527).attr("y",532).attr("width",13).attr("height",11).attr("fill","#3f7fe0");

// Brand mark
svg.append("path").attr("d","M13.4 768.4H24V780H19V773H13.4ZM29 771.2a2.6 2.6 0 1 0 0.01 0ZM37.3 768.4L31.4 780H24.6L30.6 768.4Z").attr("fill","#131722");
label(42,779.5,"TradingView","#333",16);
</script>
</body>
</html>
